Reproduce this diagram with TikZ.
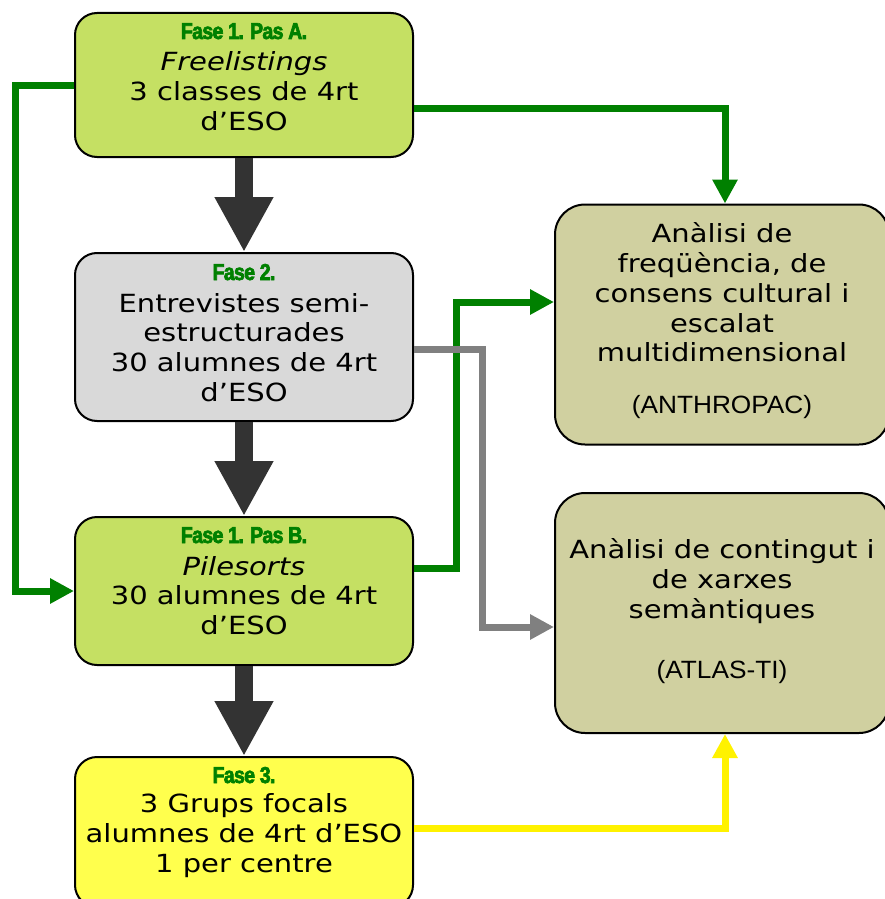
\documentclass[tikz,border=0pt]{standalone}
\usepackage{fontspec}
\setmainfont{DejaVu Sans}[FakeStretch=1.16]
\newfontfamily\arialf{Liberation Sans}[FakeStretch=1.05]
\newfontfamily\fasef{Liberation Sans Bold}[FakeBold=3, FakeStretch=0.85, LetterSpace=-3]
\usetikzlibrary{arrows.meta}
\definecolor{lgreen}{HTML}{C5E063}
\definecolor{lgray}{HTML}{D9D9D9}
\definecolor{lyellow}{HTML}{FFFF4D}
\definecolor{khaki}{HTML}{D0D0A0}
\definecolor{dgreen}{HTML}{008000}
\definecolor{mgray}{HTML}{808080}
\definecolor{dark}{HTML}{333333}
\tikzset{
  box/.style={draw=black, line width=2pt, rounded corners=22pt, minimum width=338pt, inner sep=0pt},
  rbox/.style={draw=black, line width=2pt, rounded corners=30pt, minimum width=334pt, minimum height=240pt, fill=khaki, inner sep=0pt},
  body/.style={align=center, inner sep=0pt, font=\fontsize{25}{29.7}\selectfont},
  fase/.style={anchor=base, inner sep=0pt, text=dgreen, font=\fasef\fontsize{23}{23}\selectfont},
  prog/.style={anchor=base, inner sep=0pt, font=\arialf\fontsize{25}{25}\selectfont},
  bigarrow/.style={draw=dark, line width=18pt, -{Triangle[width=55pt,length=55pt]}},
  link/.style={line width=7pt, -{Triangle[width=24pt,length=24pt]}},
}
\begin{document}
\begin{tikzpicture}[x=1pt,y=-1pt]
\useasboundingbox (0,0) rectangle (885,899);
% boxes
\node[box, fill=lgreen, minimum height=144pt] (A) at (244,85) {};
\node[box, fill=lgray, minimum height=168pt] (F2) at (244,337) {};
\node[box, fill=lgreen, minimum height=148pt] (B) at (244,591) {};
\node[box, fill=lyellow, minimum height=150pt] (F3) at (244,832) {};
\node[rbox] (AN) at (722,324.5) {};
\node[rbox] (AT) at (722,613) {};
% texts
\node[fase] (Af) at (244,39) {Fase 1. Pas A.};
\node[body] (At) at (244,91) {\textit{Freelistings}\\3 classes de 4rt\\d’ESO};
\node[fase] (F2f) at (244,280) {Fase 2.};
\node[body] (F2t) at (244,347.5) {Entrevistes semi-\\estructurades\\30 alumnes de 4rt\\d’ESO};
\node[fase] (Bf) at (244,543) {Fase 1. Pas B.};
\node[body] (Bt) at (244,595.5) {\textit{Pilesorts}\\30 alumnes de 4rt\\d’ESO};
\node[fase] (F3f) at (244,783) {Fase 3.};
\node[body] (F3t) at (244,835.5) {3 Grups focals\\alumnes de 4rt d’ESO\\1 per centre};
\node[body] (ANt) at (722,292.5) {Anàlisi de\\freqüència, de\\consens cultural i\\escalat\\multidimensional};
\node[prog] (ANp) at (722,413) {(ANTHROPAC)};
\node[body] (ATt) at (722,581) {Anàlisi de contingut i\\de xarxes\\semàntiques};
\node[prog] (ATp) at (722,678) {(ATLAS-TI)};
% big arrows
\draw[bigarrow] (A.south) -- (F2.north);
\draw[bigarrow] (F2.south) -- (B.north);
\draw[bigarrow] (B.south) -- (F3.north);
% links
\coordinate (c1) at (15,85);
\draw[link, draw=dgreen] (A.west) -- (c1) |- (B.west);
\coordinate (c2) at (725,108);
\draw[link, draw=dgreen] ([yshift=-23pt]A.east) -- (c2) -- (c2 |- AN.north);
\coordinate (c3) at (456,568);
\coordinate (c4) at (456,302);
\draw[link, draw=dgreen] (c3 -| B.east) -- (c3) -- (c4) -- (c4 -| AN.west);
\coordinate (c5) at (482,349);
\coordinate (c6) at (482,627);
\draw[link, draw=mgray] (c5 -| F2.east) -- (c5) -- (c6) -- (c6 -| AT.west);
\coordinate (c7) at (725,828);
\draw[link, draw=yellow] (c7 -| F3.east) -- (c7) -- (c7 |- AT.south);
\end{tikzpicture}
\end{document}
